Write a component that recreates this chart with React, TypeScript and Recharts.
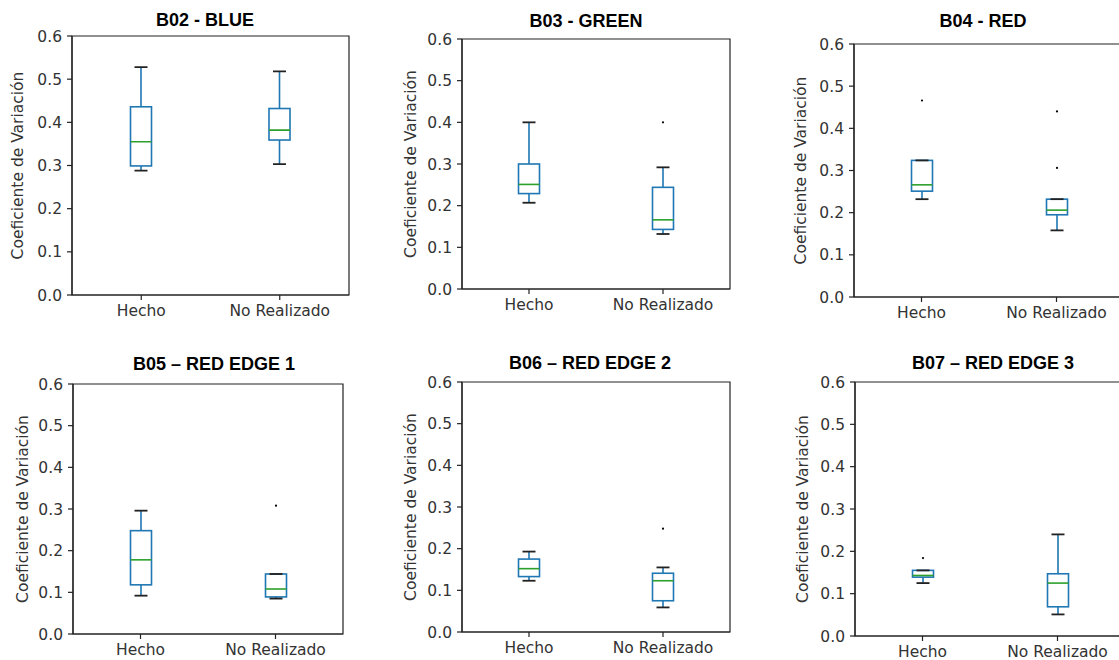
import React from 'react';
import { ComposedChart, Bar, XAxis, YAxis, ReferenceArea } from 'recharts';

// ---------- data ----------
const categories = ['Hecho', 'No Realizado'];
const titles = [
  'B02 - BLUE',
  'B03 - GREEN',
  'B04 - RED',
  'B05 \u2013 RED EDGE 1',
  'B06 \u2013 RED EDGE 2',
  'B07 \u2013 RED EDGE 3',
];
const yTicks = [0, 0.1, 0.2, 0.3, 0.4, 0.5, 0.6];
const yLabel = 'Coeficiente de Variación';

// per panel: [Hecho, No Realizado]
const whiskLo = [
  [0.288, 0.303],
  [0.207, 0.132],
  [0.232, 0.158],
  [0.092, 0.085],
  [0.123, 0.059],
  [0.125, 0.051],
];
const q1s = [
  [0.299, 0.359],
  [0.229, 0.143],
  [0.251, 0.195],
  [0.118, 0.089],
  [0.133, 0.075],
  [0.139, 0.069],
];
const medians = [
  [0.355, 0.382],
  [0.251, 0.166],
  [0.266, 0.206],
  [0.178, 0.108],
  [0.152, 0.123],
  [0.143, 0.125],
];
const q3s = [
  [0.436, 0.432],
  [0.3, 0.244],
  [0.324, 0.232],
  [0.248, 0.144],
  [0.175, 0.141],
  [0.155, 0.147],
];
const whiskHi = [
  [0.528, 0.518],
  [0.4, 0.292],
  [0.324, 0.232],
  [0.296, 0.144],
  [0.193, 0.155],
  [0.155, 0.24],
];
const outliers: number[][][] = [
  [[], []],
  [[], [0.4]],
  [[0.466], [0.44, 0.306]],
  [[], [0.308]],
  [[], [0.248]],
  [[0.184], []],
];

// ---------- layout ----------
const layout = [
  { px: 72, py: 36, pw: 277, ph: 259, tx: 205, ty: 20, lab: 54 },
  { px: 462, py: 39, pw: 268, ph: 250, tx: 586, ty: 21, lab: 51 },
  { px: 854, py: 44, pw: 270, ph: 253, tx: 983, ty: 21, lab: 53 },
  { px: 73, py: 384, pw: 270, ph: 250, tx: 214, ty: 364, lab: 50 },
  { px: 462, py: 382, pw: 268, ph: 250, tx: 590, ty: 363, lab: 51 },
  { px: 855, py: 382, pw: 270, ph: 254, tx: 993, ty: 363, lab: 52 },
];

const BLUE = '#1f77b4';
const GREEN = '#2ca02c';
const DARK = '#222';
const TXT = '#333';
const FONT = "'DejaVu Sans', sans-serif";

const BoxShape = (props: any) => {
  const { x, y, width, height, payload } = props;
  const { lo, q1, med, q3, hi, out } = payload;
  const k = height / (hi - lo);
  const py = (v: number) => y + (hi - v) * k;
  const cx = x + width / 2;
  const bw = 21;
  const cw = 13;
  return (
    <g>
      <line x1={cx} x2={cx} y1={py(hi)} y2={py(q3)} stroke={BLUE} strokeWidth={1.6} />
      <line x1={cx} x2={cx} y1={py(q1)} y2={py(lo)} stroke={BLUE} strokeWidth={1.6} />
      <rect x={cx - bw / 2} y={py(q3)} width={bw} height={Math.max(py(q1) - py(q3), 0.5)} fill="none" stroke={BLUE} strokeWidth={1.6} />
      <line x1={cx - bw / 2} x2={cx + bw / 2} y1={py(med)} y2={py(med)} stroke={GREEN} strokeWidth={1.6} />
      <line x1={cx - cw / 2} x2={cx + cw / 2} y1={py(hi)} y2={py(hi)} stroke={DARK} strokeWidth={1.8} />
      <line x1={cx - cw / 2} x2={cx + cw / 2} y1={py(lo)} y2={py(lo)} stroke={DARK} strokeWidth={1.8} />
      {out.map((v: number, i: number) => (
        <circle key={i} cx={cx} cy={py(v)} r={1.1} fill="#000" />
      ))}
    </g>
  );
};

const AXW = 70;
const MT = 10;
const XH = 40;
const MR = 2;

function BoxPanel({ idx }: { idx: number }) {
  const L = layout[idx];
  const data = categories.map((c, i) => ({
    name: c,
    lo: whiskLo[idx][i],
    q1: q1s[idx][i],
    med: medians[idx][i],
    q3: q3s[idx][i],
    hi: whiskHi[idx][i],
    out: outliers[idx][i],
  }));
  const renderLabel = (p: any) => {
    const vb = p.viewBox || { x: 0, y: MT, width: AXW, height: L.ph };
    const cx = vb.x + vb.width - L.lab;
    const cy = vb.y + vb.height / 2;
    return (
      <text
        x={cx}
        y={cy}
        transform={`rotate(-90 ${cx} ${cy})`}
        textAnchor="middle"
        dominantBaseline="central"
        fontSize={15.5}
        fontFamily={FONT}
        fill={TXT}
      >
        {yLabel}
      </text>
    );
  };
  return (
    <>
      <div
        style={{
          position: 'absolute',
          left: L.tx - 150,
          top: L.ty - 11,
          width: 300,
          height: 22,
          lineHeight: '22px',
          textAlign: 'center',
          fontFamily: "'Liberation Sans', Arial, sans-serif",
          fontWeight: 'bold',
          fontSize: 18,
          color: '#000',
          whiteSpace: 'nowrap',
        }}
      >
        {titles[idx]}
      </div>
      <div style={{ position: 'absolute', left: L.px - AXW, top: L.py - MT }}>
        <ComposedChart
          width={AXW + L.pw + MR}
          height={MT + L.ph + XH}
          data={data}
          margin={{ top: MT, right: MR, bottom: 0, left: 0 }}
        >
          <XAxis
            xAxisId="b"
            dataKey="name"
            type="category"
            height={XH}
            interval={0}
            axisLine={{ stroke: DARK, strokeWidth: 1.2 }}
            tickLine={{ stroke: DARK, strokeWidth: 1.2 }}
            tickSize={5}
            tickMargin={5}
            tick={{ fill: TXT, fontSize: 15.5, fontFamily: FONT }}
          />
          <YAxis
            yAxisId="l"
            type="number"
            domain={[0, 0.6]}
            ticks={yTicks}
            width={AXW}
            interval={0}
            allowDataOverflow
            axisLine={{ stroke: DARK, strokeWidth: 1.2 }}
            tickLine={{ stroke: DARK, strokeWidth: 1.2 }}
            tickSize={5}
            tickMargin={5}
            tick={{ fill: TXT, fontSize: 15.5, fontFamily: FONT }}
            tickFormatter={(v: number) => v.toFixed(1)}
            label={renderLabel}
          />
          <ReferenceArea
            xAxisId="b"
            yAxisId="l"
            y1={0}
            y2={0.6}
            fill="none"
            fillOpacity={0}
            stroke={DARK}
            strokeWidth={1.2}
            ifOverflow="visible"
          />
          <Bar
            xAxisId="b"
            yAxisId="l"
            dataKey={(d: any) => [d.lo, d.hi]}
            barSize={20}
            shape={BoxShape}
            isAnimationActive={false}
          />
        </ComposedChart>
      </div>
    </>
  );
}

export default function App() {
  return (
    <div
      style={{
        position: 'fixed',
        left: 0,
        top: 0,
        width: 1119,
        height: 660,
        overflow: 'hidden',
        background: '#fff',
      }}
    >
      {layout.map((_, i) => (
        <BoxPanel key={i} idx={i} />
      ))}
    </div>
  );
}
